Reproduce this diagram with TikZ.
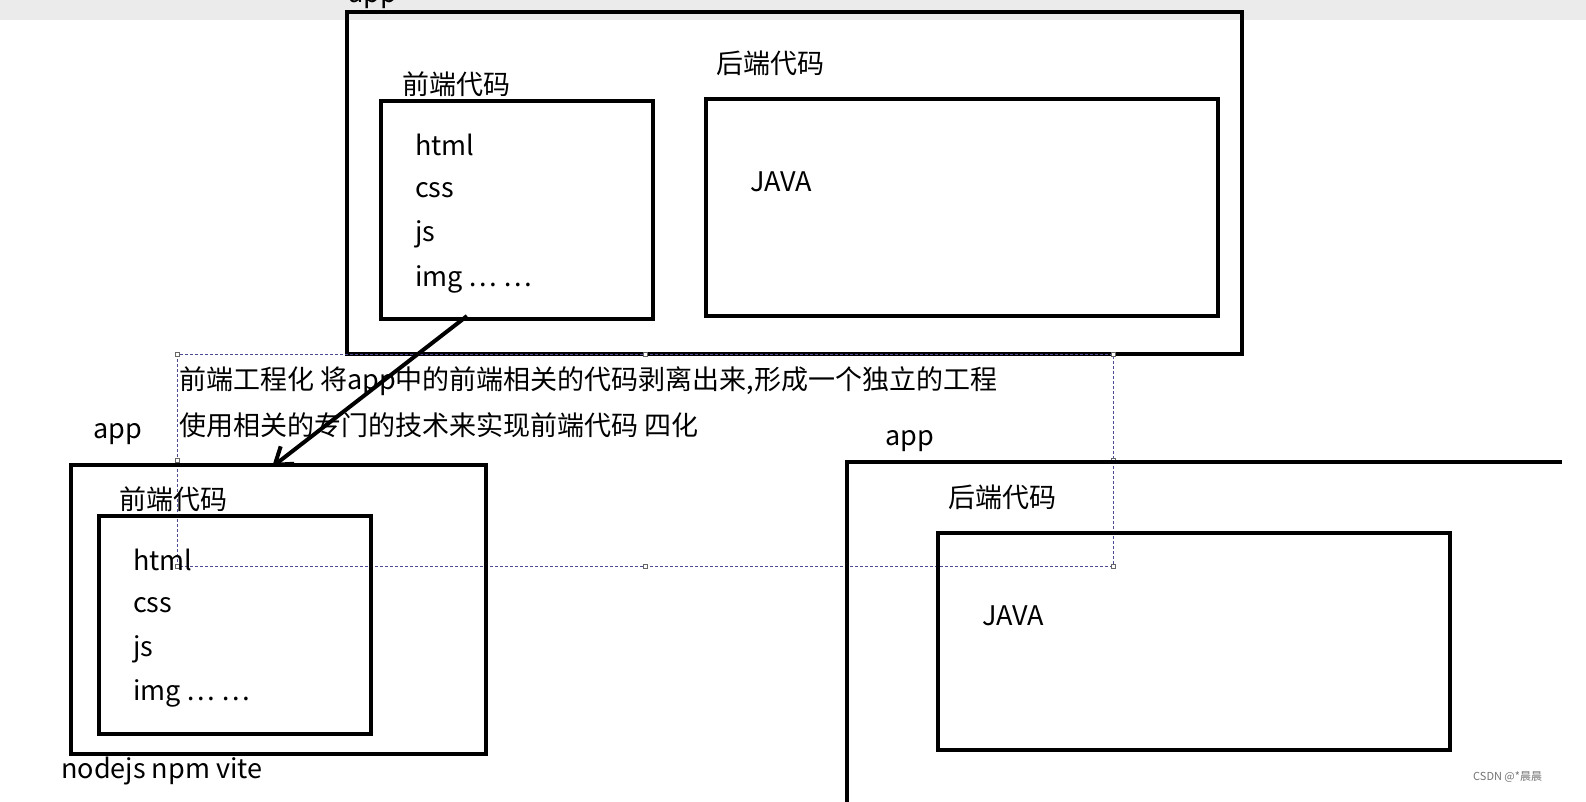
\documentclass[tikz,border=0pt]{standalone}
\usepackage{fontspec}
\setmainfont{Noto Sans CJK SC}
\usetikzlibrary{arrows.meta}
\begin{document}
\begin{tikzpicture}[x=1pt,y=-1pt,
  box/.style={draw=black,line width=4pt},
  lbl/.style={font=\fontsize{27}{31}\selectfont,inner sep=0pt,anchor=west},
  handle/.style={draw=black!60,fill=white,line width=0.6pt,minimum size=4pt,inner sep=0pt}]
\useasboundingbox (0,0) rectangle (1586,802);
\fill[black!8] (0,0) rectangle (1586,20);
% top app
\draw[box] (347,12) rectangle (1242,354);
\node[lbl] (tapp) at (348,-2) {app};
\node[lbl] (tfe) at (402,84) {前端代码};
\draw[box] (381,101) rectangle (653,319);
\coordinate (arrs) at (467,316);
\node[lbl] (t1) at (415,145) {html};
\node[lbl] (t2) at (415,190) {css};
\node[lbl] (t3) at (415,234) {js};
\node[lbl] (t4) at (415,279) {img … …};
\node[lbl] (tbe) at (716,63) {后端代码};
\draw[box] (706,99) rectangle (1218,316);
\node[lbl] (tj) at (750,182) {JAVA};
% dashed selection
\draw[densely dashed,draw=blue!40!black!70,line width=0.7pt] (177,354) rectangle (1113,566);
\foreach \p in {(177,354),(645,354),(1113,354),(177,460),(1113,460),(177,566),(645,566),(1113,566)}
  \node[handle] at \p {};
\node[lbl] (l1) at (179,381) {前端工程化 将app中的前端相关的代码剥离出来,形成一个独立的工程};
\node[lbl] (l2) at (179,425) {使用相关的专门的技术来实现前端代码 四化};
% bottom-left
\node[lbl] (bapp) at (93,434) {app};
\draw[box] (71,465) rectangle (486,754);
\coordinate (arre) at (272,467);
\draw[line width=4pt,-{Straight Barb[length=16pt,width=22pt]}] (arrs) -- (arre);
\node[lbl] (bfe) at (119,499) {前端代码};
\draw[box] (99,516) rectangle (371,734);
\node[lbl] (b1) at (133,560) {html};
\node[lbl] (b2) at (133,605) {css};
\node[lbl] (b3) at (133,649) {js};
\node[lbl] (b4) at (133,693) {img … …};
\node[lbl] (bn) at (61,771) {nodejs npm vite};
% bottom-right
\node[lbl] (rapp) at (885,441) {app};
\draw[box] (847,802) -- (847,462) -- (1562,462);
\node[lbl] (rbe) at (948,497) {后端代码};
\draw[box] (938,533) rectangle (1450,750);
\node[lbl] (rj) at (982,616) {JAVA};
\node[font=\fontsize{11}{13}\selectfont,text=black!55,anchor=west,inner sep=0pt] (wm) at (1473,777) {CSDN @*晨晨};
\end{tikzpicture}
\end{document}
